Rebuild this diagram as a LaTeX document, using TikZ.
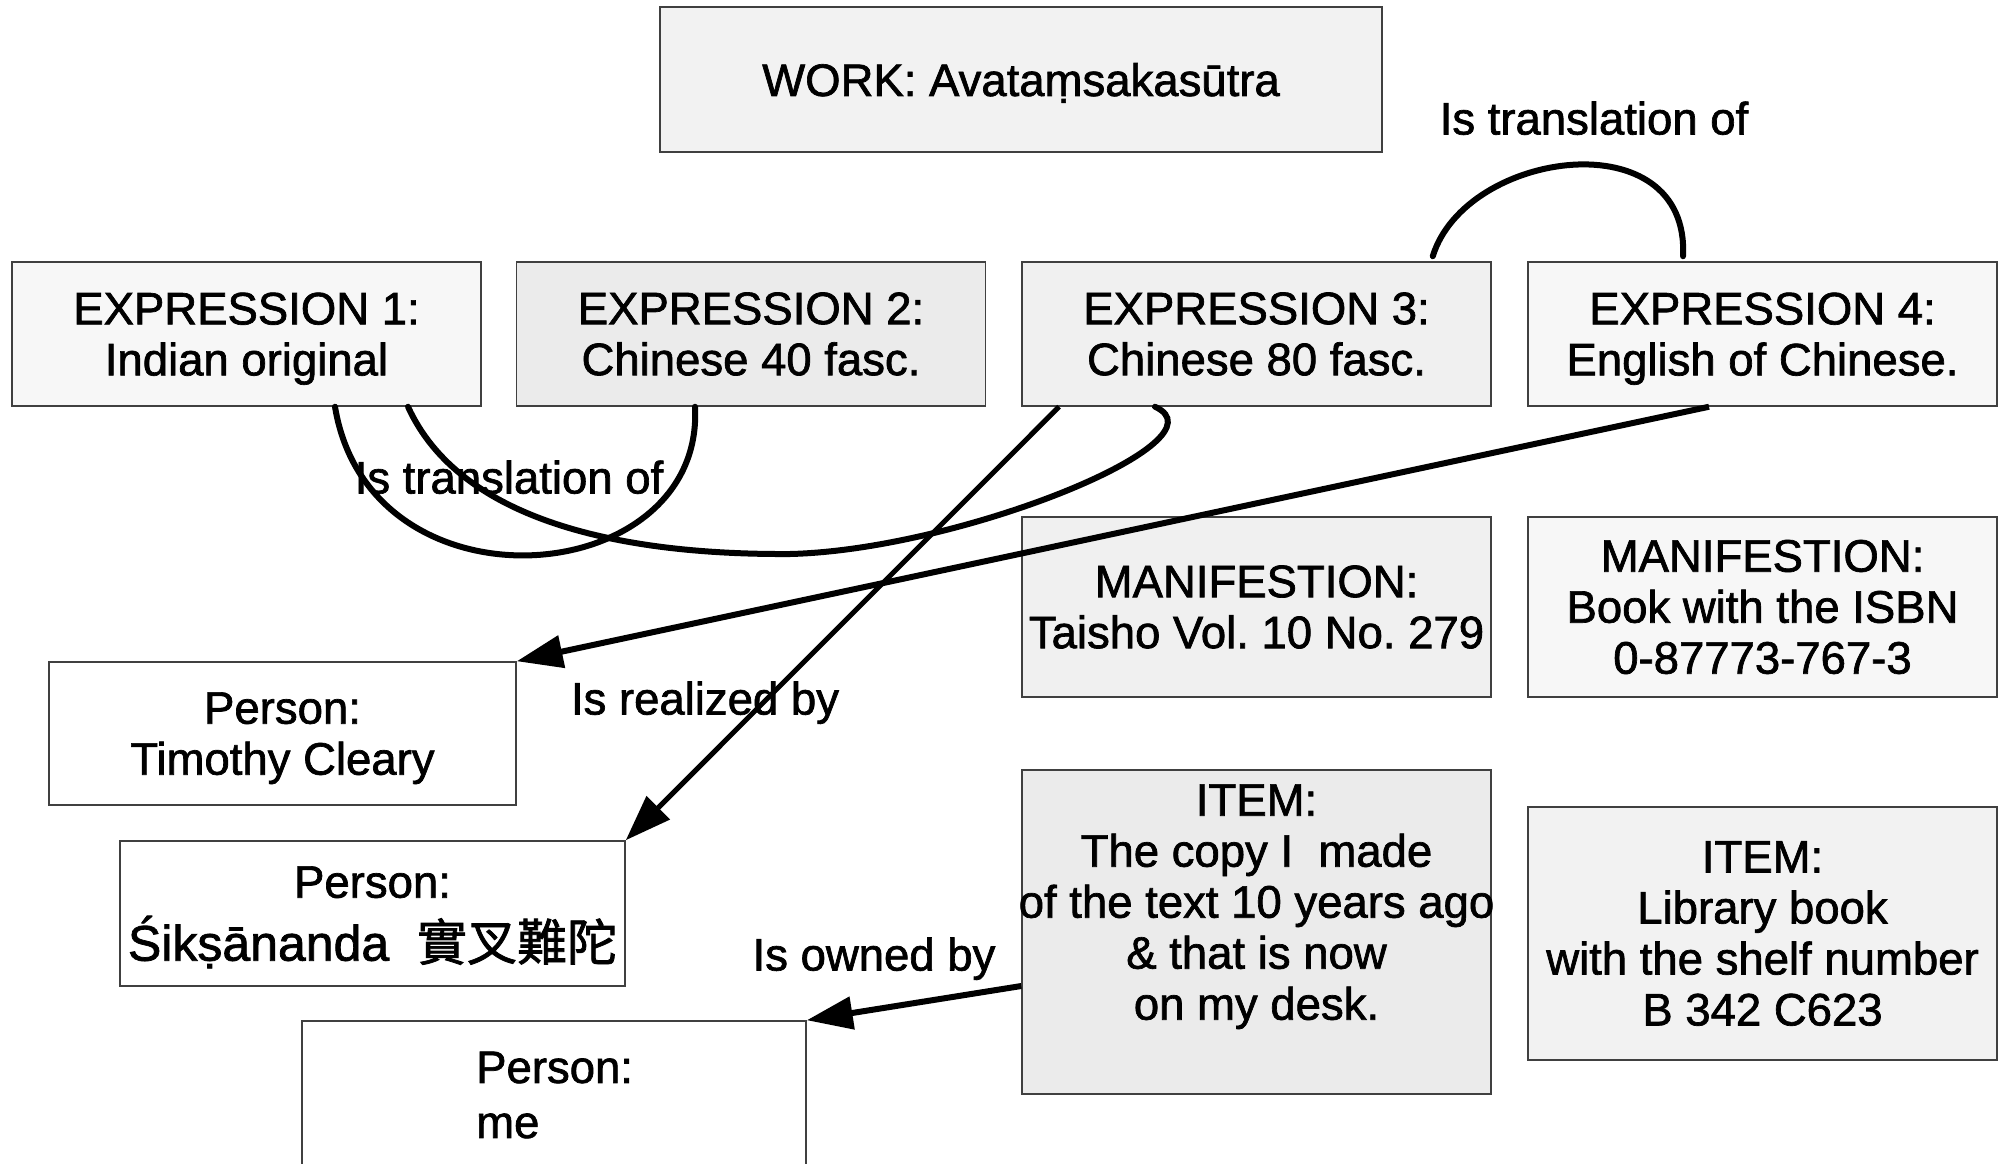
\documentclass[tikz,border=0pt]{standalone}
\usepackage{fontspec}
\setmainfont{Liberation Sans}[FakeBold=1.5]
\newfontfamily\cjk{Noto Sans CJK TC}[FakeBold=1.5]
\usetikzlibrary{arrows.meta}
\frenchspacing
\newcommand\bodyfont{\fontsize{45.5}{51}\selectfont}
\newcommand\bigline{\fontsize{50}{55}\selectfont}
\tikzset{
  frbox/.style={draw=black!75, line width=1.5pt, rectangle, inner sep=0pt,
    align=center, font=\bodyfont, minimum width=469pt, minimum height=144pt},
  txt/.style={inner sep=0pt, align=center, font=\bodyfont},
  lbl/.style={inner sep=0pt, font=\bodyfont, text depth=0pt},
  rel/.style={line width=6pt, line cap=round},
  arr/.style={line width=6pt, -{Triangle[length=46pt,width=32pt]}},
}
\begin{document}
\begin{tikzpicture}[x={(1pt,0)}, y={(0,-1pt)}]
\path[use as bounding box, clip] (0,0) rectangle (2007,1164);

% work and expressions
\node[frbox, fill=black!5, minimum width=722pt, minimum height=145pt, text depth=0pt] (work) at (1021,79.5) {WORK: Avataṃsakasūtra};
\node[frbox, fill=black!3] (e1) at (246.5,334) {EXPRESSION 1:\\\smash{Indian original}};
\node[frbox, fill=black!8] (e2) at (751,334) {EXPRESSION 2:\\Chinese 40 fasc.};
\node[frbox, fill=black!6] (e3) at (1256.5,334) {EXPRESSION 3:\\Chinese 80 fasc.};
\node[frbox, fill=black!3] (e4) at (1762.5,334) {EXPRESSION 4:\\\smash{English of Chinese.}};

% manifestations and items
\node[frbox, fill=black!6, minimum height=180pt] (m1) at (1256.5,607) {MANIFESTION:\\Taisho Vol. 10 No. 279};
\node[frbox, fill=black!3, minimum height=180pt] (m2) at (1762.5,607) {MANIFESTION:\\Book with the ISBN\\0-87773-767-3};
\node[frbox, fill=black!8, minimum height=324pt] (item1) at (1256.5,932) {};
\node[txt] (item1text) at (1256.5,902) {ITEM:\\The copy I\ \ made\\of the text 10 years ago\\\& that is now\\\smash{on my desk.}};
\node[frbox, fill=black!5, minimum height=253pt] (item2) at (1762.5,933.5) {ITEM:\\Library book\\with the shelf number\\B 342 C623};

% persons
\node[frbox, fill=white, minimum width=467pt, minimum height=143pt] (tim) at (282.5,733.5) {Person:\\\smash{Timothy Cleary}};
\node[frbox, fill=white, minimum width=505pt, minimum height=145pt] (sik) at (372.5,913.5)
  {Person:\\[12pt]{\bigline\smash{Śikṣānanda}\ \ {\cjk\smash{實叉難陀}}}};
\node[frbox, fill=white, minimum width=504pt, minimum height=179pt] (me) at (554,1110.5) {};
\node[txt, align=left, anchor=west] (metext) at (476,1095) {Person:\\[4pt]me};

% relation labels
\node[lbl] (t1) at (1594,118) {Is translation of};
\node[lbl] (t2) at (509,477) {Is translation of};
\node[lbl] (t3) at (705,698) {Is realized by};
\node[lbl] (t4) at (874,954) {Is owned by};

% translation relations
\draw[rel] ([xshift=-59pt,yshift=5pt]e3.north east) .. controls +(33,-107) and +(7,-137) .. ([xshift=-79.5pt,yshift=5pt]e4.north);
\draw[rel] ([xshift=88.5pt]e1.south) .. controls +(35,212) and +(10,184) .. ([xshift=-56pt]e2.south);
\draw[rel] ([xshift=161.5pt]e1.south) .. controls +(52,114) and +(-170,1) .. (790,554)
  .. controls +(170,-4) and +(75,34) .. ([xshift=-101.5pt]e3.south);

% realization and ownership
\draw[arr, line width=5pt] ([xshift=-197.5pt]e3.south) -- (sik.north east);
\draw[arr] ([xshift=-53.5pt]e4.south) -- (tim.north east);
\draw[arr] ([yshift=-54pt]item1.west) -- (me.north east);
\end{tikzpicture}
\end{document}
